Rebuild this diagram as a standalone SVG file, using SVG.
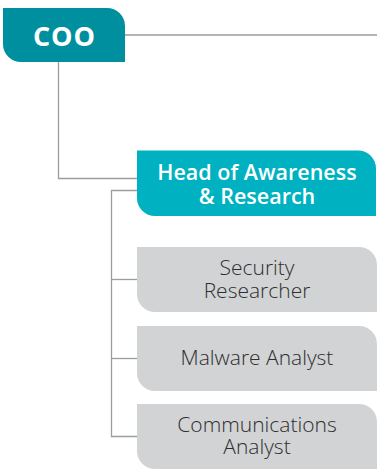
<svg xmlns="http://www.w3.org/2000/svg" width="377" height="472" viewBox="0 0 377 472">
<style>
.ln{fill:none;stroke:#9d9d9d;stroke-width:1.3}
.t{font-family:"Open Sans","Liberation Sans",sans-serif;text-anchor:middle}
.coo{fill:#008f9f}
.head{fill:#00b2c1}
.role{fill:#d1d3d5}
.wt{fill:#ffffff}
.dk{fill:#2e2e2e;font-weight:300;font-size:21px}
</style>
<g id="connectors">
<path class="ln" d="M125 35 H377"/>
<path class="ln" d="M58.5 62 V178.5 H137"/>
<path class="ln" d="M137 190.5 H111.5 V436.5 H137"/>
<path class="ln" d="M111.5 279.5 H137"/>
<path class="ln" d="M111.5 358.5 H137"/>
</g>
<g id="coo">
<path class="coo" d="M3 8 H107 A18 18 0 0 1 125 26 V62 H21 A18 18 0 0 1 3 44 Z"/>
<text class="t wt" x="64.5" y="46" font-size="27" font-weight="700" letter-spacing="1">COO</text>
</g>
<g id="head">
<path class="head" d="M137 150.5 H358 A18 18 0 0 1 376 168.5 V216 H155 A18 18 0 0 1 137 198 Z"/>
<text class="t wt" x="257" y="179.5" font-size="21.5" font-weight="600">Head of Awareness</text>
<text class="t wt" x="257" y="203.5" font-size="21.5" font-weight="600">&amp; Research</text>
</g>
<g id="security-researcher">
<path class="role" d="M137 247 H359 A18 18 0 0 1 377 265 V312 H155 A18 18 0 0 1 137 294 Z"/>
<text class="t dk" x="257" y="275">Security</text>
<text class="t dk" x="257" y="297.5">Researcher</text>
</g>
<g id="malware-analyst">
<path class="role" d="M137 326 H359 A18 18 0 0 1 377 344 V391 H155 A18 18 0 0 1 137 373 Z"/>
<text class="t dk" x="257" y="365">Malware Analyst</text>
</g>
<g id="communications-analyst">
<path class="role" d="M137 404 H359 A18 18 0 0 1 377 422 V469 H155 A18 18 0 0 1 137 451 Z"/>
<text class="t dk" x="257" y="432">Communications</text>
<text class="t dk" x="257" y="454">Analyst</text>
</g>
</svg>
